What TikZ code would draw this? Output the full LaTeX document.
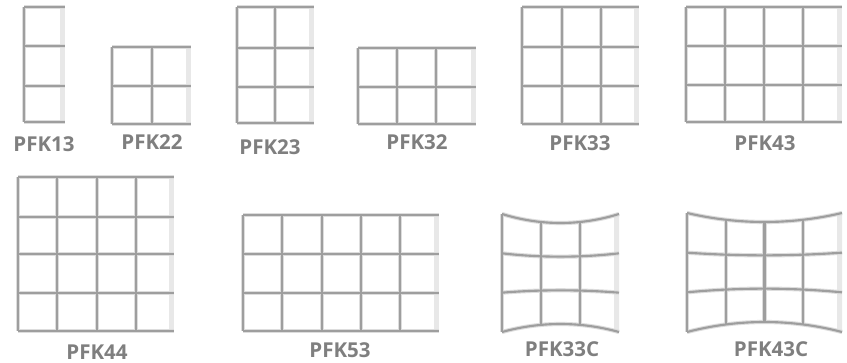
\documentclass[tikz,border=0pt]{standalone}
\usepackage{fontspec}
\setmainfont{Open Sans}
\definecolor{halo}{HTML}{DDDDDD}
\definecolor{core}{HTML}{9E9E9E}
\definecolor{stripc}{HTML}{E8E8E8}
\definecolor{lab}{HTML}{7F7F7F}
\tikzset{
  halo/.style={draw=halo, line width=4.2pt},
  core/.style={draw=core, line width=2.1pt},
  gl/.style={halo},
  label/.style={font=\fontsize{20.5}{20.5}\selectfont\bfseries, text=lab, inner sep=0pt, anchor=center}
}
% flat grid: #1 verticals x (incl. left border), #2 horizontals y (incl. top/bottom), #3 x0, #4 x1, #5 y0, #6 y1
\newcommand{\fgrid}[6]{%
  \foreach \xx in {#1} {\draw[gl] (\xx,#5) -- (\xx,#6);}%
  \foreach \yy in {#2} {\draw[gl] (#3,\yy) -- (#4,\yy);}%
}
\newcommand{\fstrip}[4]{\fill[stripc] ({#2-5},#3) rectangle (#2,#4);}
% curved grid: #1 x0, #2 x1, #3 top edge y, #4 top sag, #5 bottom edge y, #6 bottom rise, #7 cols, #8 rows
\newcommand{\cgrid}[8]{%
  \pgfmathsetmacro\xc{(#1+#2)/2}\pgfmathsetmacro\hw{(#2-#1)/2}%
  \pgfmathsetmacro\ca{#1+(\xc-#1)*2/3}\pgfmathsetmacro\cb{#2-(#2-\xc)*2/3}%
  \foreach \i in {1,...,#7}{%
    \pgfmathsetmacro\xx{#1+(#2-#1)*(\i-1)/#7}%
    \pgfmathsetmacro\ff{1-((\xx-\xc)/\hw)^2}%
    \draw[gl] (\xx,{#3+#4*\ff}) -- (\xx,{#5-#6*\ff});}%
  \foreach \j in {0,...,#8}{%
    \pgfmathsetmacro\ye{#3+(#5-#3)*\j/#8}%
    \pgfmathsetmacro\dd{(#4*(1-\j/#8)-#6*\j/#8)*4/3}%
    \draw[gl] (#1,\ye) .. controls (\ca,{\ye+\dd}) and (\cb,{\ye+\dd}) .. (#2,\ye);}%
}
\newcommand{\cstrip}[6]{%
  \pgfmathsetmacro\xc{(#1+#2)/2}\pgfmathsetmacro\hw{(#2-#1)/2}%
  \pgfmathsetmacro\ff{1-((#2-5-\xc)/\hw)^2}%
  \fill[stripc] ({#2-5},{#3+#4*\ff}) -- (#2,#3) -- (#2,#5) -- ({#2-5},{#5-#6*\ff}) -- cycle;}
\newcommand{\allgrids}{%
  \fgrid{24}{7,46,86,122}{24}{65}{7}{122}%
  \fgrid{112,152}{47,86,124}{112}{191}{47}{124}%
  \fgrid{237,275}{7,48,87,123}{237}{314}{7}{123}%
  \fgrid{358,397,436}{48,87,124}{358}{476}{48}{124}%
  \fgrid{522,562,601}{7,47,86,124}{522}{639}{7}{124}%
  \fgrid{686,725,764,803}{7,46,85,122}{686}{842}{7}{122}%
  \fgrid{18,57,97,136}{177,217,254,293,331}{18}{174}{177}{331}%
  \fgrid{243,282,322,361,400}{215,254,293,331}{243}{439}{215}{331}%
  \cgrid{502}{619}{214}{9}{332}{8}{3}{3}%
  \cgrid{687}{842}{213}{9}{332}{10}{4}{3}%
}
\begin{document}
\begin{tikzpicture}[x=1pt,y=-1pt]
\useasboundingbox (0,0) rectangle (847,363);
\fill[white] (0,0) rectangle (847,363);
% light right-edge strips
\fstrip{24}{65}{7}{122}
\fstrip{112}{191}{47}{124}
\fstrip{237}{314}{7}{123}
\fstrip{358}{476}{48}{124}
\fstrip{522}{639}{7}{124}
\fstrip{686}{842}{7}{122}
\fstrip{18}{174}{177}{331}
\fstrip{243}{439}{215}{331}
\cstrip{502}{619}{214}{9}{332}{8}
\cstrip{687}{842}{213}{9}{332}{10}
% grid lines: soft halo pass, then core pass
\tikzset{gl/.style={halo}}
\allgrids
\tikzset{gl/.style={core}}
\allgrids
% labels
\node[label] (l13)  at (44,144)  {PFK13};
\node[label] (l22)  at (152,142) {PFK22};
\node[label] (l23)  at (270,147) {PFK23};
\node[label] (l32)  at (417,142) {PFK32};
\node[label] (l33)  at (580,143.5) {PFK33};
\node[label] (l43)  at (765,143.5) {PFK43};
\node[label] (l44)  at (97,352)  {PFK44};
\node[label] (l53)  at (340,350.5) {PFK53};
\node[label] (l33c) at (562,349.5) {PFK33C};
\node[label] (l43c) at (771,349.5) {PFK43C};
\end{tikzpicture}
\end{document}
